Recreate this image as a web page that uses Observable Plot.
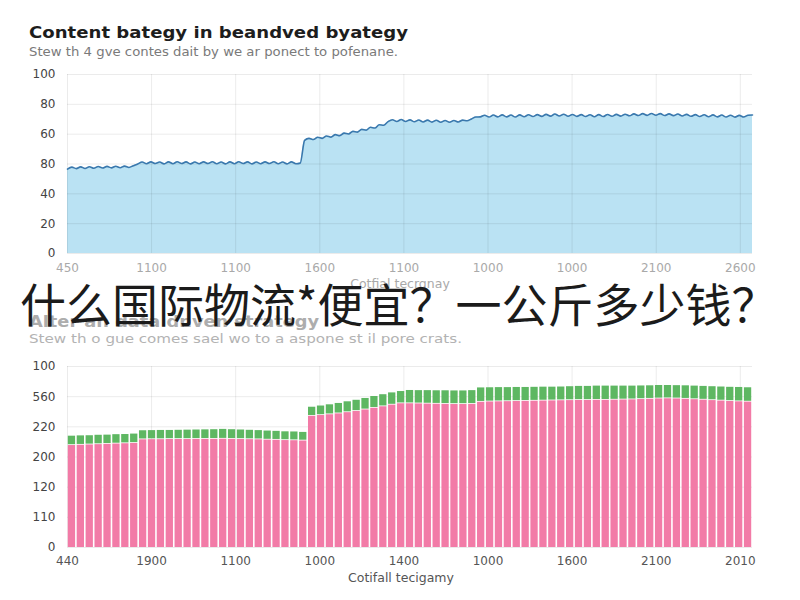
<!DOCTYPE html>
<html>
<head>
<meta charset="utf-8">
<script src="https://cdn.jsdelivr.net/npm/d3@7"></script>
<script src="https://cdn.jsdelivr.net/npm/@observablehq/plot@0.6"></script>
<style>
  html, body { margin: 0; padding: 0; background: #fff; }
  body { width: 800px; height: 600px; position: relative; overflow: hidden; font-family: "DejaVu Sans", sans-serif; }
  .chart { position: absolute; left: 0; }
  #ov { position: absolute; left: 0; top: 0; z-index: 5; pointer-events: none; }
</style>
</head>
<body>
<div id="top" class="chart" style="top:60px"></div>
<div id="bottom" class="chart" style="top:350px"></div>
<svg id="ov" width="800" height="600"></svg>
<script>
// ---------- text ----------
const title1 = "Content bategy in beandved byategy";
const subtitle1 = "Stew th 4 gve contes dait by we ar ponect to pofenane.";
const xTitle1 = "Cotfial tecrgnay";
const title2 = "Alter an data dnven strategy";
const subtitle2 = "Stew th o gue comes sael wo to a aspone st il pore crats.";
const xTitle2 = "Cotifall tecigamy";
const overlayText = "什么国际物流*便宜？一公斤多少钱？";

// ---------- tick labels ----------
const xTicks = [0, 1, 2, 3, 4, 5, 6, 7, 8];
const xMax = 8.145;
const topXLabels = ["450", "1100", "1100", "1600", "1100", "1000", "1000", "2100", "2600"];
const bottomXLabels = ["440", "1900", "1100", "1000", "1400", "1000", "1600", "2100", "2010"];
const yTicks = [0, 20, 40, 60, 80, 100, 120];
const topYLabels = ["0", "20", "40", "80", "60", "80", "100"];
const bottomYLabels = ["0", "110", "120", "200", "220", "560", "100"];

// ---------- top series (area line) ----------
const topValues = [
  56.6, 57.9, 56.9, 58.1, 57.0, 58.2, 57.2, 58.3, 57.3, 58.4, 57.4, 58.5, 57.5, 58.6, 57.7, 58.9,
  60.0, 61.3, 60.2, 61.4, 60.3, 61.3, 60.1, 61.4, 60.2, 61.5,
  60.3, 61.4, 60.1, 61.3, 60.2, 61.4, 60.3, 61.5, 60.2, 61.3,
  60.1, 61.4, 60.2, 61.5, 60.3, 61.4, 60.1, 61.3, 60.2, 61.4,
  60.3, 61.5, 60.2, 61.3, 60.1, 61.4, 60.2, 60.6,
  75.8, 77.2, 76.4, 77.9, 77.2, 78.8, 78.0, 79.7, 79.0, 80.7, 80.1, 81.9, 81.4, 83.2, 82.7, 84.6, 84.1, 86.3, 86.0, 88.4,
  89.7, 88.5, 89.8, 88.5, 89.6, 88.3, 89.5, 88.2, 89.4, 88.1, 89.3, 88.0, 89.2, 88.0, 89.2, 88.2, 89.4, 89.0,
  90.2, 91.5, 91.6, 92.7,
  91.5, 92.8, 91.6, 92.9, 91.6, 92.8, 91.5, 92.9, 91.7, 93.0,
  91.8, 93.1, 91.9, 93.3, 92.1, 93.5, 92.2, 93.4, 92.0, 93.2,
  91.9, 93.1, 91.8, 93.0, 91.7, 93.1, 91.8, 93.2, 92.0, 93.3,
  92.1, 93.4, 92.3, 93.6, 92.5, 93.8, 92.6, 93.9, 92.7, 93.8,
  92.5, 93.6, 92.4, 93.5, 92.2, 93.3, 92.0, 93.1, 91.8, 93.0,
  91.7, 92.9, 91.6, 92.8, 91.5, 92.7, 91.4, 92.6, 91.5, 92.7,
  92.8
];

// ---------- bottom series (stacked bars) ----------
const pinkValues = [
  67.6, 67.8, 68.0, 68.2, 68.4, 68.6, 68.8, 69.0,
  71.4, 71.5, 71.5, 71.6, 71.6, 71.6, 71.7, 71.7, 71.7, 71.8, 71.7, 71.6, 71.5, 71.4, 71.2, 71.1, 70.9, 70.8, 70.6,
  87.0, 87.5, 88.0, 88.6, 89.4, 90.2, 91.2, 92.3, 93.3, 94.4, 95.3,
  95.3, 95.2, 95.1, 95.0, 94.9, 94.8, 94.8, 94.9,
  96.3, 96.5, 96.6, 96.7, 96.8, 96.9, 97.0, 97.1, 97.2, 97.3,
  97.4, 97.5, 97.5, 97.6, 97.6, 97.7, 97.8, 97.9, 98.1, 98.3,
  98.5, 98.6, 98.5, 98.3, 98.0, 97.7, 97.4, 97.1, 96.8, 96.6,
  96.4
];
const greenValues = [
  6.2, 6.2, 6.1, 6.2, 6.1, 6.2, 6.1, 6.2,
  6.0, 6.0, 6.1, 6.0, 6.1, 6.2, 6.2, 6.3, 6.4, 6.5, 6.4, 6.3, 6.2, 6.1, 6.0, 5.9, 5.8, 5.8, 5.7,
  6.0, 6.3, 6.6, 6.9, 7.2, 7.4, 7.6, 7.8, 8.0, 8.1, 8.1,
  8.8, 8.8, 8.9, 8.9, 9.0, 9.0, 9.0, 9.1,
  9.5, 9.4, 9.4, 9.3, 9.3, 9.2, 9.2, 9.2, 9.1, 9.1,
  9.2, 9.3, 9.3, 9.4, 9.4, 9.3, 9.2, 9.1, 9.0, 8.9,
  8.9, 8.8, 8.8, 8.9, 9.0, 9.1, 9.2, 9.3, 9.4, 9.5,
  9.5
];

// ---------- colours ----------
const areaFill = "#bae2f3";
const lineStroke = "#3a78ad";
const pinkFill = "#f27ba7";
const greenFill = "#5eb762";

const fmt = (labels) => (d) => labels[yTicks.indexOf(d)];
const fmtX = (labels) => (d) => labels[xTicks.indexOf(d)];

// ---------- top chart ----------
const nTop = topValues.length;
const topData = topValues.map((v, i) => ({x: i * xMax / (nTop - 1), v}));

const topChart = Plot.plot({
  width: 800, height: 240,
  marginTop: 14, marginBottom: 47, marginLeft: 67, marginRight: 48,
  style: {fontFamily: "DejaVu Sans", fontSize: "12px", background: "transparent", overflow: "visible"},
  x: {domain: [0, xMax]},
  y: {domain: [0, 120]},
  marks: [
    Plot.areaY(topData, {x: "x", y: "v", fill: areaFill, curve: "monotone-x"}),
    Plot.gridY(yTicks, {stroke: "#000", strokeOpacity: 0.08}),
    Plot.gridX(xTicks, {stroke: "#000", strokeOpacity: 0.08}),
    Plot.lineY(topData, {x: "x", y: "v", stroke: lineStroke, strokeWidth: 1.6, curve: "monotone-x"}),
    Plot.axisX(xTicks, {tickSize: 0, tickPadding: 10, tickFormat: fmtX(topXLabels), fill: "#a9a9a9", label: null}),
    Plot.axisY(yTicks, {tickSize: 0, tickPadding: 12, tickFormat: fmt(topYLabels), fill: "#444", label: null})
  ]
});
document.getElementById("top").appendChild(topChart);

// ---------- bottom chart ----------
const nBars = pinkValues.length;
const pinkData = pinkValues.map((v, i) => ({x1: i * xMax / nBars, x2: (i + 1) * xMax / nBars, y1: 0, y2: v}));
const greenData = greenValues.map((g, i) => ({x1: i * xMax / nBars, x2: (i + 1) * xMax / nBars, y1: pinkValues[i], y2: pinkValues[i] + g}));

const bottomChart = Plot.plot({
  width: 800, height: 250,
  marginTop: 16, marginBottom: 53, marginLeft: 67, marginRight: 48,
  style: {fontFamily: "DejaVu Sans", fontSize: "12px", background: "transparent", overflow: "visible"},
  x: {domain: [0, xMax]},
  y: {domain: [0, 120]},
  marks: [
    Plot.gridY(yTicks, {stroke: "#000", strokeOpacity: 0.08}),
    Plot.gridX(xTicks, {stroke: "#000", strokeOpacity: 0.08}),
    Plot.rect(pinkData, {x1: "x1", x2: "x2", y1: "y1", y2: "y2", fill: pinkFill, insetLeft: 0.8, insetRight: 0.8}),
    Plot.rect(greenData, {x1: "x1", x2: "x2", y1: "y1", y2: "y2", fill: greenFill, insetLeft: 0.8, insetRight: 0.8, insetBottom: 0.8}),
    Plot.axisX(xTicks, {tickSize: 0, tickPadding: 9, tickFormat: fmtX(bottomXLabels), fill: "#555", label: null}),
    Plot.axisY(yTicks, {tickSize: 0, tickPadding: 12, tickFormat: fmt(bottomYLabels), fill: "#444", label: null})
  ]
});
document.getElementById("bottom").appendChild(bottomChart);

// ---------- overlay texts ----------
const ov = d3.select("#ov");
function addText(str, x, y, opts) {
  const t = ov.append("text").attr("x", x).attr("y", y).text(str)
    .attr("font-family", opts.family || "DejaVu Sans")
    .attr("font-size", opts.size)
    .attr("font-weight", opts.weight || "normal")
    .attr("fill", opts.fill)
    .attr("text-anchor", opts.anchor || "start");
  if (opts.len) t.attr("textLength", opts.len).attr("lengthAdjust", "spacingAndGlyphs");
  return t;
}
addText(title1, 29, 38, {size: 16.5, weight: "bold", fill: "#1d1d1d", len: 379});
addText(subtitle1, 29, 56, {size: 12.5, fill: "#7a7a7a", len: 369});
addText(xTitle1, 400, 288, {size: 12.5, fill: "#a9a9a9", anchor: "middle"});
addText(title2, 29, 327, {size: 16.5, weight: "bold", fill: "#adadad", len: 290});
addText(subtitle2, 29, 343, {size: 12.5, fill: "#b3b3b3", len: 433});
addText(xTitle2, 401, 582, {size: 12.5, fill: "#555", anchor: "middle"});
addText(overlayText, 20, 322, {family: "Noto Sans CJK SC", size: 46, fill: "#1b1b1b"});
</script>
</body>
</html>
